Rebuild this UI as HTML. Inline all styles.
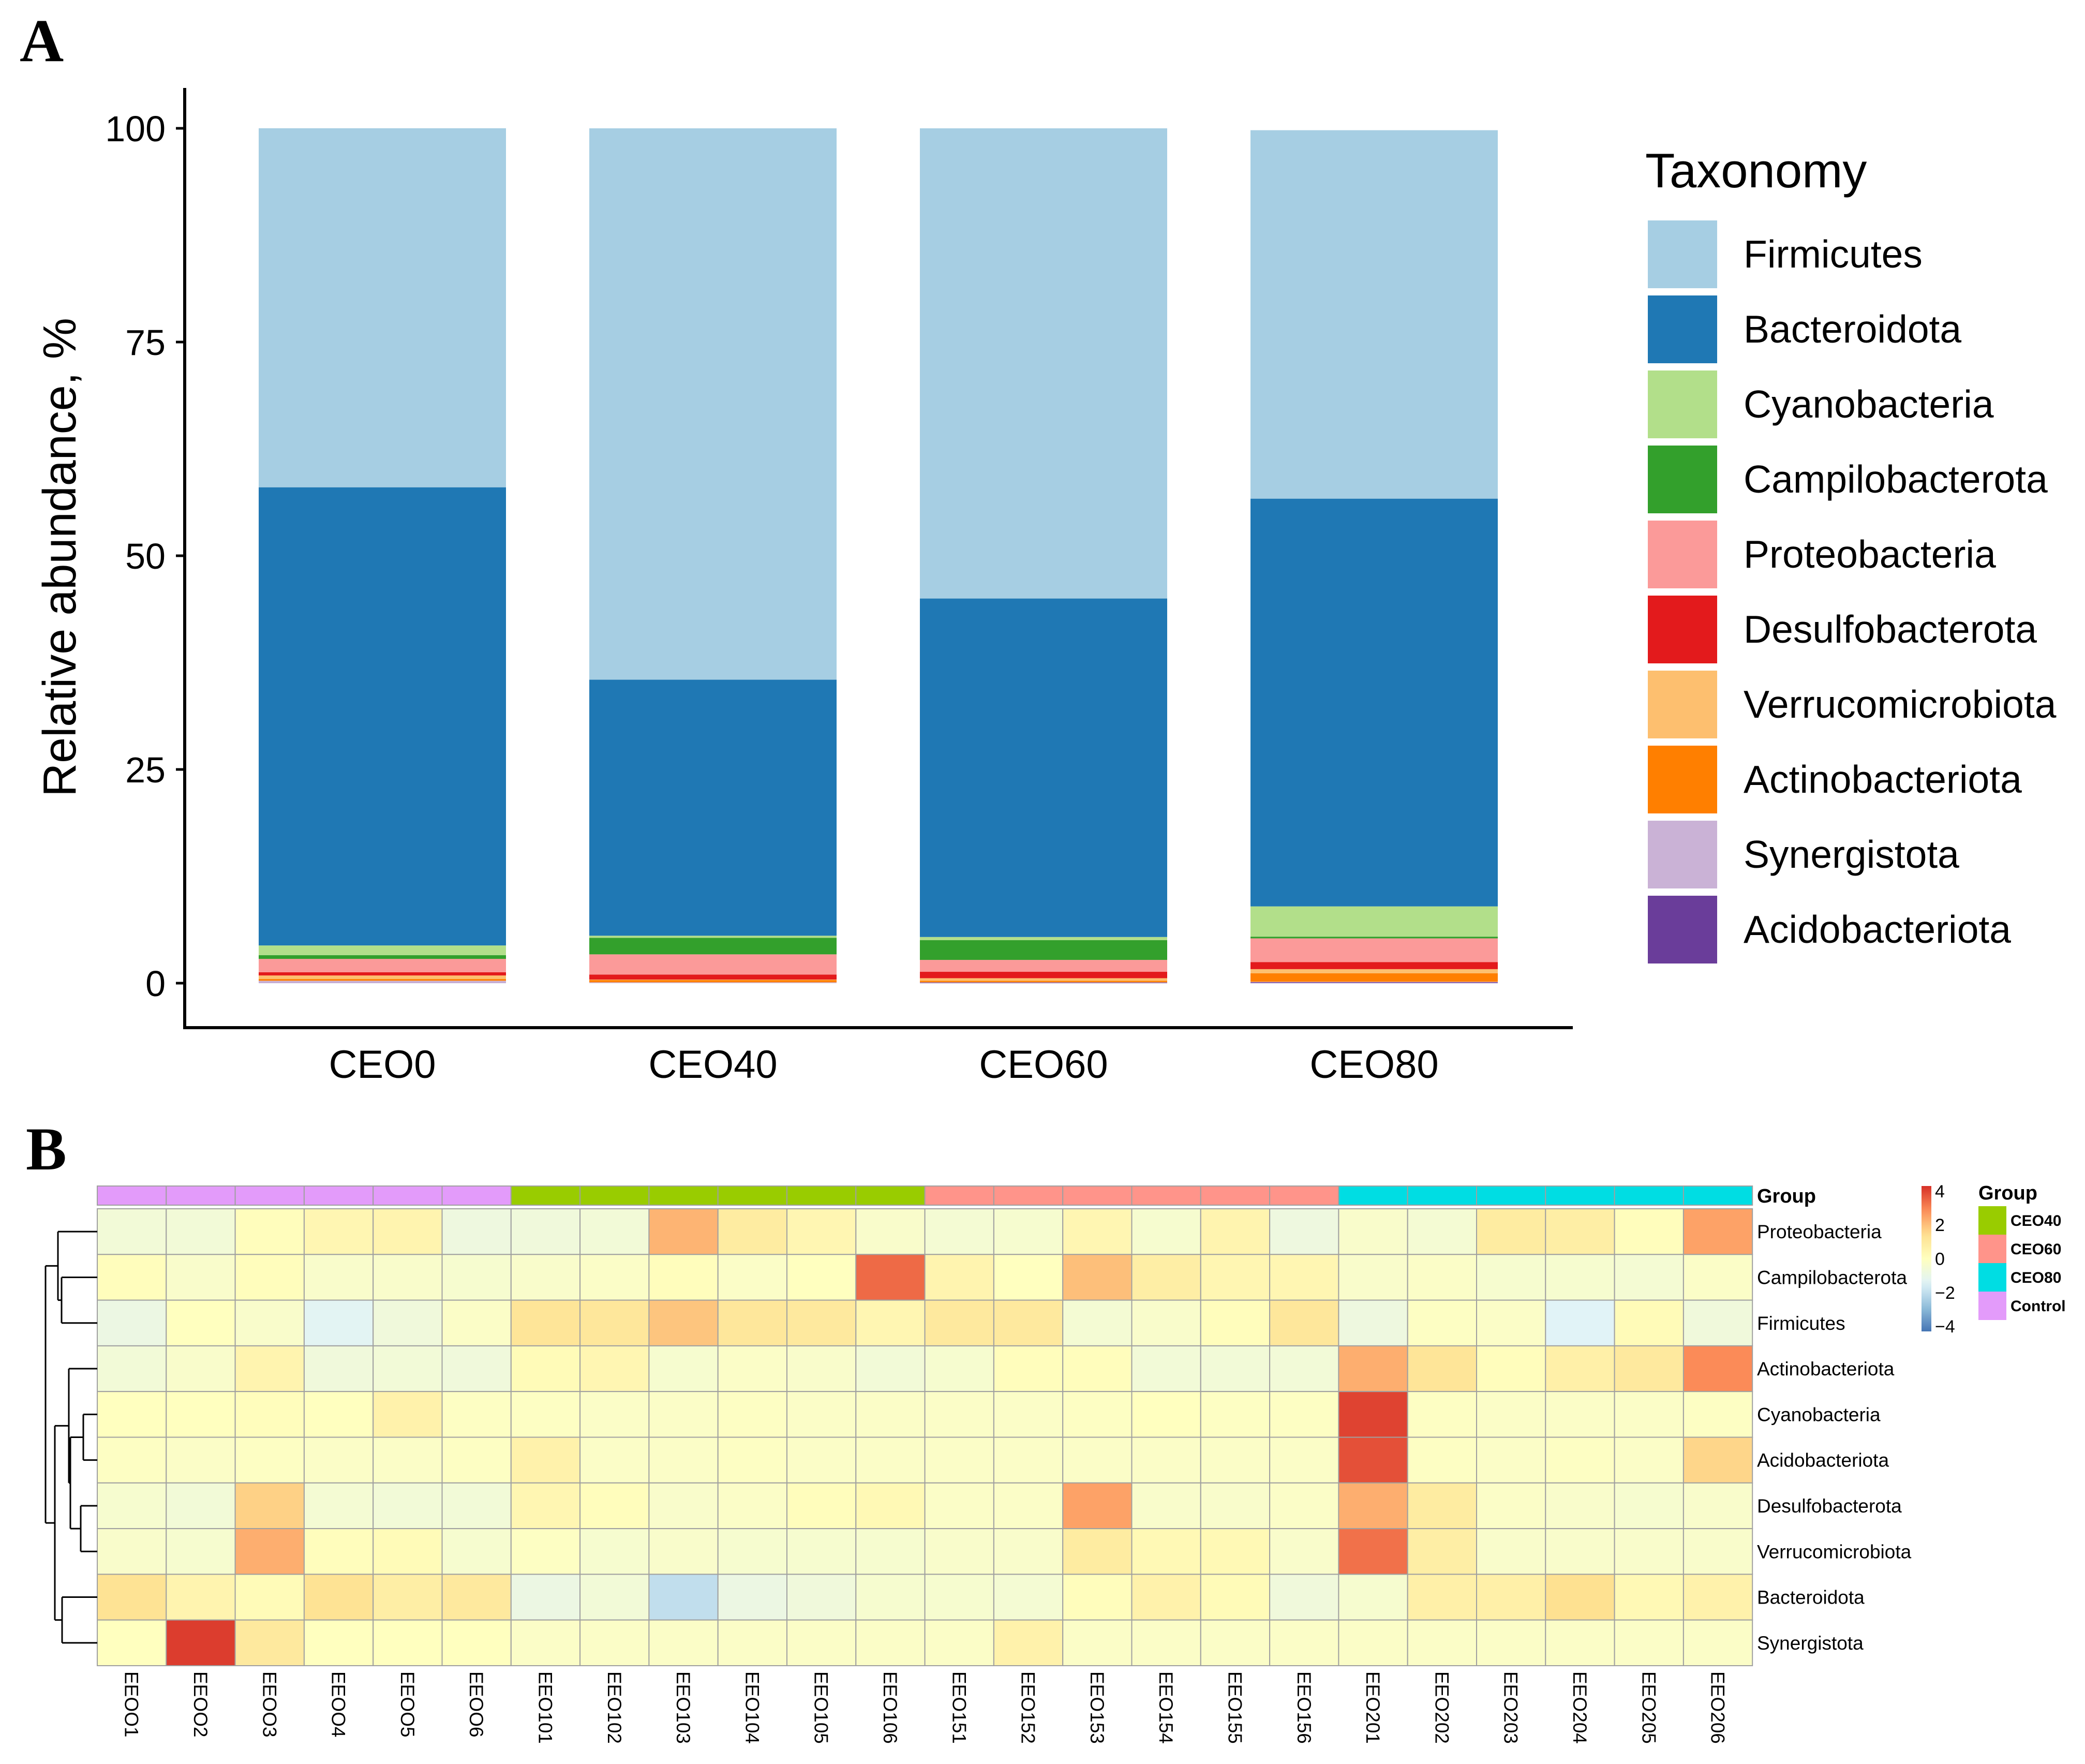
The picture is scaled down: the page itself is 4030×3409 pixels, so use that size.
<!DOCTYPE html>
<html><head><meta charset="utf-8"><style>
body{margin:0;background:#fff}
svg text{font-family:"Liberation Sans",sans-serif}
</style></head><body>
<svg id="fig" width="4030" height="3404" viewBox="0 0 4030 3404" xmlns="http://www.w3.org/2000/svg">
<text x="38" y="118" font-family="Liberation Serif" font-weight="bold" font-size="118" style="font-family:'Liberation Serif',serif">A</text>
<text x="50" y="2260" font-family="Liberation Serif" font-weight="bold" font-size="118" style="font-family:'Liberation Serif',serif">B</text>
<g id="barchart"></g>
<g id="legend"></g>
<g id="heatmap"></g>
</svg>
<script>
const groups=["CEO0","CEO40","CEO60","CEO80"];
const taxa=["Firmicutes","Bacteroidota","Cyanobacteria","Campilobacterota","Proteobacteria","Desulfobacterota","Verrucomicrobiota","Actinobacteriota","Synergistota","Acidobacteriota"];
const taxaColors=["#A6CEE3","#1F78B4","#B2DF8A","#33A02C","#FB9A99","#E31A1C","#FDBF6F","#FF7F00","#CAB2D6","#6A3D9A"];
const firmicutes=[42.0,64.5,55.0,43.1];
const bacteroidota=[53.6,29.95,39.6,47.7];
const cyanobacteria=[1.13,0.24,0.36,3.54];
const campilobacterota=[0.44,1.94,2.32,0.2];
const proteobacteria=[1.56,2.36,1.39,2.77];
const desulfobacterota=[0.38,0.59,0.75,0.83];
const verrucomicrobiota=[0.42,0.06,0.3,0.48];
const actinobacteriota=[0.2,0.26,0.18,1.0];
const synergistota=[0.26,0.1,0.04,0.06];
const acidobacteriota=[0.02,0.0,0.06,0.1];
const yTicks=[0,25,50,75,100];

const NS="http://www.w3.org/2000/svg";
function mk(tag,attrs,parent,txt){const e=document.createElementNS(NS,tag);for(const k in attrs)e.setAttribute(k,attrs[k]);if(txt!==undefined)e.textContent=txt;parent.appendChild(e);return e;}

// Bar chart
const bc=document.getElementById('barchart');
const y0=1900,y100=248;
const yS=v=>y0-(y0-y100)*v/100;
const xL=357,xR=3040,firstX=500,step=639,bw=478;
const xS=i=>firstX+i*step;
const series=[firmicutes,bacteroidota,cyanobacteria,campilobacterota,proteobacteria,desulfobacterota,verrucomicrobiota,actinobacteriota,synergistota,acidobacteriota];
groups.forEach((g,i)=>{
  let cum=0;
  for(let s=series.length-1;s>=0;s--){
    const v=series[s][i];
    const r=mk('rect',{x:xS(i),y:yS(cum+v),width:bw,height:Math.max(0,yS(cum)-yS(cum+v)),fill:taxaColors[s]},bc);
    
    
    cum+=v;
  }
  const t=mk('text',{x:xS(i)+bw/2,y:2083,'font-size':76,'text-anchor':'middle'},bc,g);
  
  
});
let ax=mk('line',{x1:xL,y1:170,x2:xL,y2:1986,stroke:'#000','stroke-width':6},bc);

ax=mk('line',{x1:xL-3,y1:1986,x2:xR,y2:1986,stroke:'#000','stroke-width':6},bc);

yTicks.forEach(v=>{
  const l=mk('line',{x1:xL-17,y1:yS(v),x2:xL,y2:yS(v),stroke:'#000','stroke-width':5},bc);
  
  const t=mk('text',{x:320,y:yS(v)+25,'font-size':70,'text-anchor':'end'},bc,String(v));
  
});
const yt=mk('text',{x:146,y:1077,'font-size':90,'text-anchor':'middle',transform:'rotate(-90 146 1077)'},bc,'Relative abundance, %');


// Legend
const lg=document.getElementById('legend');
const lt=mk('text',{x:3180,y:362,'font-size':94},lg,'Taxonomy');

taxa.forEach((n,i)=>{
  const y=426+i*145;
  const r=mk('rect',{x:3185,y:y,width:134,height:131,fill:taxaColors[i]},lg);
  
  const t=mk('text',{x:3370,y:y+91,'font-size':75},lg,n);
  
});

// Heatmap
const hmRows=["Proteobacteria","Campilobacterota","Firmicutes","Actinobacteriota","Cyanobacteria","Acidobacteriota","Desulfobacterota","Verrucomicrobiota","Bacteroidota","Synergistota"];
const hmCols=["EEOO1","EEOO2","EEOO3","EEOO4","EEOO5","EEOO6","EEO101","EEO102","EEO103","EEO104","EEO105","EEO106","EEO151","EEO152","EEO153","EEO154","EEO155","EEO156","EEO201","EEO202","EEO203","EEO204","EEO205","EEO206"];
const colGroups=["Control","Control","Control","Control","Control","Control","CEO40","CEO40","CEO40","CEO40","CEO40","CEO40","CEO60","CEO60","CEO60","CEO60","CEO60","CEO60","CEO80","CEO80","CEO80","CEO80","CEO80","CEO80"];
const groupNames=["CEO40","CEO60","CEO80","Control"];
const groupColors=["#99CC00","#FF948A","#00DDE3","#E39BFA"];
const zProteobacteria=[-0.6,-0.6,0.1,0.4,0.5,-0.8,-0.7,-0.6,2.2,0.9,0.4,-0.3,-0.5,-0.4,0.4,-0.4,0.5,-0.8,-0.3,-0.5,0.9,0.8,0.1,2.5];
const zCampilobacterota=[0.1,-0.3,0.1,-0.3,-0.3,-0.4,-0.3,-0.2,0.1,-0.2,0.0,3.4,0.5,0.0,2.0,0.8,0.4,0.4,-0.3,-0.2,-0.4,-0.4,-0.5,-0.2];
const zFirmicutes=[-0.9,0,-0.3,-1.3,-0.7,-0.2,1.2,1.1,1.9,1.1,1.0,0.4,1.0,1.0,-0.5,-0.3,0.1,1.1,-0.8,-0.1,-0.2,-1.4,0.2,-0.7];
const zActinobacteriota=[-0.6,-0.3,0.5,-0.7,-0.6,-0.7,0.2,0.4,-0.4,-0.2,-0.3,-0.6,-0.4,0.1,0.1,-0.6,-0.6,-0.6,2.3,1.2,0.1,0.7,1.0,2.9];
const zCyanobacteria=[0,0,0.1,0,0.6,-0.1,-0.1,-0.2,-0.2,-0.1,-0.2,-0.2,-0.2,-0.2,-0.1,0,-0.1,-0.1,4.0,-0.1,-0.2,-0.2,-0.2,-0.1];
const zAcidobacteriota=[-0.1,-0.2,-0.1,-0.2,-0.2,-0.1,0.6,-0.2,-0.2,-0.1,-0.2,-0.2,-0.2,-0.2,-0.2,-0.2,-0.2,-0.2,3.8,-0.1,-0.2,-0.1,-0.2,1.6];
const zDesulfobacterota=[-0.4,-0.6,1.7,-0.5,-0.6,-0.6,0.4,0.1,-0.3,-0.2,0.1,0.3,-0.2,-0.2,2.5,-0.3,-0.3,-0.2,2.3,0.9,-0.2,-0.3,-0.4,-0.3];
const zVerrucomicrobiota=[-0.3,-0.4,2.3,0.1,0.2,-0.4,-0.1,-0.4,-0.3,-0.4,-0.4,-0.4,-0.3,-0.3,0.9,0.3,0.3,-0.3,3.3,0.8,-0.3,-0.3,-0.3,-0.3];
const zBacteroidota=[1.3,0.5,0.2,1.3,0.8,1.0,-0.9,-0.6,-2.0,-0.9,-0.7,-0.4,-0.4,-0.5,0.1,0.6,0.2,-0.7,-0.4,0.7,0.7,1.4,0.3,0.6];
const zSynergistota=[0,4.1,1.0,0,0,0,-0.2,-0.2,-0.2,-0.2,-0.2,-0.2,-0.2,0.6,-0.2,-0.2,-0.2,-0.2,-0.2,-0.2,-0.2,-0.2,-0.2,-0.2];
const zMatrix=[zProteobacteria,zCampilobacterota,zFirmicutes,zActinobacteriota,zCyanobacteria,zAcidobacteriota,zDesulfobacterota,zVerrucomicrobiota,zBacteroidota,zSynergistota];
const scaleTicks=[4,2,0,-2,-4];

const pal=[[69,117,180],[145,191,219],[224,243,248],[255,255,191],[254,224,144],[252,141,89],[215,48,39]];
function zc(z){const zmin=-4.3,zmax=4.3;let t=(z-zmin)/(zmax-zmin);t=Math.max(0,Math.min(1,t))*(pal.length-1);const i=Math.min(pal.length-2,Math.floor(t)),f=t-i;const c=pal[i].map((v,k)=>Math.round(v+(pal[i+1][k]-v)*f));return `rgb(${c[0]},${c[1]},${c[2]})`;}

const hm=document.getElementById('heatmap');
const hx0=188,cw=133.3,gy0=2292,gh=37,hy0=2336,rh=88.3;
const hx=j=>hx0+j*cw, hy=i=>hy0+i*rh;
hmCols.forEach((c,j)=>{
  const r=mk('rect',{x:hx(j),y:gy0,width:cw,height:gh,fill:groupColors[groupNames.indexOf(colGroups[j])],stroke:'#a0a0a0','stroke-width':2},hm);
  
  const t=mk('text',{x:0,y:0,'font-size':37,transform:`translate(${hx(j)+cw/2-13},3230) rotate(90)`},hm,c);
  
});
const gl=mk('text',{x:3396,y:2324,'font-size':38,'font-weight':'bold'},hm,'Group');

hmRows.forEach((rn,i)=>{
  hmCols.forEach((c,j)=>{
    const r=mk('rect',{x:hx(j),y:hy(i),width:cw,height:rh,fill:zc(zMatrix[i][j]),stroke:'#a0a0a0','stroke-width':2},hm);
    
    
  });
  const t=mk('text',{x:3396,y:hy(i)+rh/2+13,'font-size':37},hm,rn);
  
});
// dendrogram
const rc=i=>hy(i)+rh/2;
function seg(x1,y1,x2,y2){const l=mk('line',{x1:x1,y1:y1,x2:x2,y2:y2,stroke:'#000','stroke-width':3},hm);}
function join(xa,ya,xb,yb,xn){seg(xa,ya,xn,ya);seg(xb,yb,xn,yb);seg(xn,ya,xn,yb);return (ya+yb)/2;}
const R=188;
const nCF=join(R,rc(1),R,rc(2),119);
const nPCF=join(R,rc(0),119,nCF,112);
const nCA=join(R,rc(4),R,rc(5),161);
const nDV=join(R,rc(6),R,rc(7),156);
const nCADV=join(161,nCA,156,nDV,136);
const nA=join(R,rc(3),136,nCADV,133);
const nBS=join(R,rc(8),R,rc(9),120);
const nLow=join(133,nA,120,nBS,106);
join(112,nPCF,106,nLow,88);
// color scale
const defs=mk('defs',{},document.getElementById('fig'));
const grad=mk('linearGradient',{id:'zg',x1:0,y1:1,x2:0,y2:0},defs);
for(let k=0;k<=20;k++){mk('stop',{offset:k/20,'stop-color':zc(-4.3+8.6*k/20)},grad);}
const cb=mk('rect',{x:3714,y:2292,width:19,height:281,fill:'url(#zg)'},hm);

scaleTicks.forEach(v=>{
  const y=2432.5-v*(281/8.6);
  const t=mk('text',{x:3740,y:y+12,'font-size':34},hm,v<0?'\u2212'+(-v):String(v));
  
});
const gt=mk('text',{x:3824,y:2318,'font-size':38,'font-weight':'bold'},hm,'Group');

groupNames.forEach((g,k)=>{
  const y=2331+k*55;
  const r=mk('rect',{x:3824,y:y,width:54,height:55,fill:groupColors[k]},hm);
  
  const t=mk('text',{x:3886,y:y+38,'font-size':30,'font-weight':'bold'},hm,g);
  
});
</script>
</body></html>
